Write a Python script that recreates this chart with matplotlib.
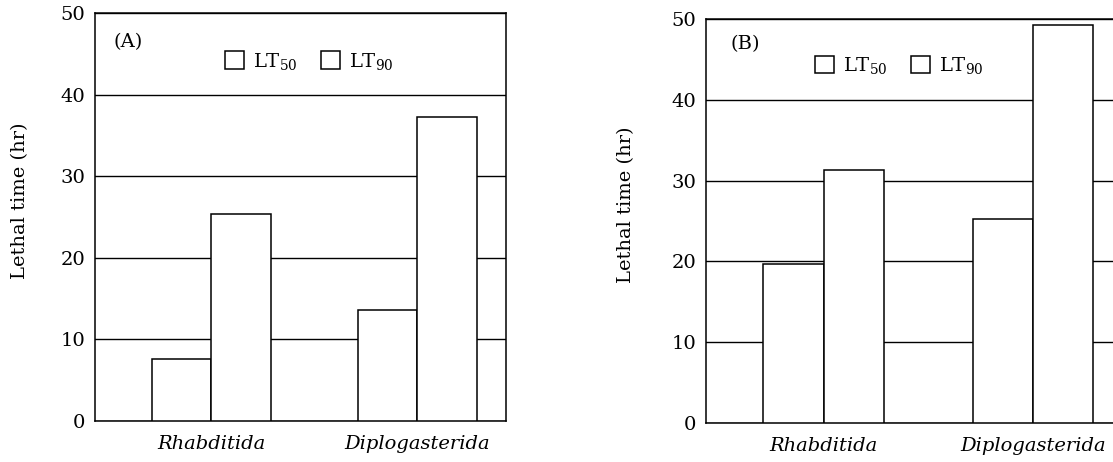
import numpy as np
import matplotlib
matplotlib.use("Agg")
import matplotlib.pyplot as plt
from matplotlib.patches import Patch

plt.rcParams["font.family"] = ["DejaVu Serif"]
plt.rcParams["mathtext.fontset"] = "dejavuserif"

groups = ["Rhabditida", "Diplogasterida"]
series = ["LT$_{50}$", "LT$_{90}$"]
panel_labels = ["(A)", "(B)"]

lt50_a = [7.6, 13.6]
lt90_a = [25.4, 37.3]
lt50_b = [19.7, 25.3]
lt90_b = [31.3, 49.3]

group_pos = np.array([0.0, 3.47])
bar_w = 1.0
fs = 14


def draw_panel(ax, lt50, lt90, label, label_xy, legend_xy, ylabel_x):
    ax.bar(group_pos - bar_w / 2, lt50, width=bar_w, color="white",
           edgecolor="black", linewidth=1.1, zorder=3)
    ax.bar(group_pos + bar_w / 2, lt90, width=bar_w, color="white",
           edgecolor="black", linewidth=1.1, zorder=3)

    ax.set_xlim(-1.95, 4.96)
    ax.set_ylim(0, 50)
    ax.set_yticks([0, 10, 20, 30, 40, 50])
    ax.set_xticks(group_pos)
    ax.set_xticklabels(groups, fontstyle="italic", fontsize=fs)
    ax.tick_params(axis="both", length=0, labelsize=fs)
    ax.tick_params(axis="x", pad=10)
    ax.tick_params(axis="y", pad=7)

    ax.yaxis.grid(True, color="black", linewidth=1.0)
    ax.set_axisbelow(True)
    for sp in ax.spines.values():
        sp.set_linewidth(1.1)

    ax.set_ylabel("Lethal time (hr)", fontsize=fs)
    ax.yaxis.set_label_coords(ylabel_x, 0.54)

    ax.text(label_xy[0], label_xy[1], label, transform=ax.transAxes,
            ha="left", va="center", fontsize=fs)

    handles = [Patch(facecolor="white", edgecolor="black", linewidth=1.1)
               for _ in series]
    ax.legend(handles, series, loc="center left", bbox_to_anchor=legend_xy,
              ncol=2, frameon=False, fontsize=fs, borderpad=0,
              borderaxespad=0, handlelength=1.0, handleheight=1.0,
              handletextpad=0.45, columnspacing=1.2)


fig = plt.figure(figsize=(11.13, 4.62), dpi=100)
ax_a = fig.add_axes([0.0854, 0.0887, 0.3693, 0.8831])
ax_b = fig.add_axes([0.6343, 0.0844, 0.3747, 0.8745])

draw_panel(ax_a, lt50_a, lt90_a, panel_labels[0], (0.046, 0.929), (0.316, 0.882), -0.16)
draw_panel(ax_b, lt50_b, lt90_b, panel_labels[1], (0.06, 0.938), (0.261, 0.884), -0.17)

fig.savefig("out.png", dpi=100)
